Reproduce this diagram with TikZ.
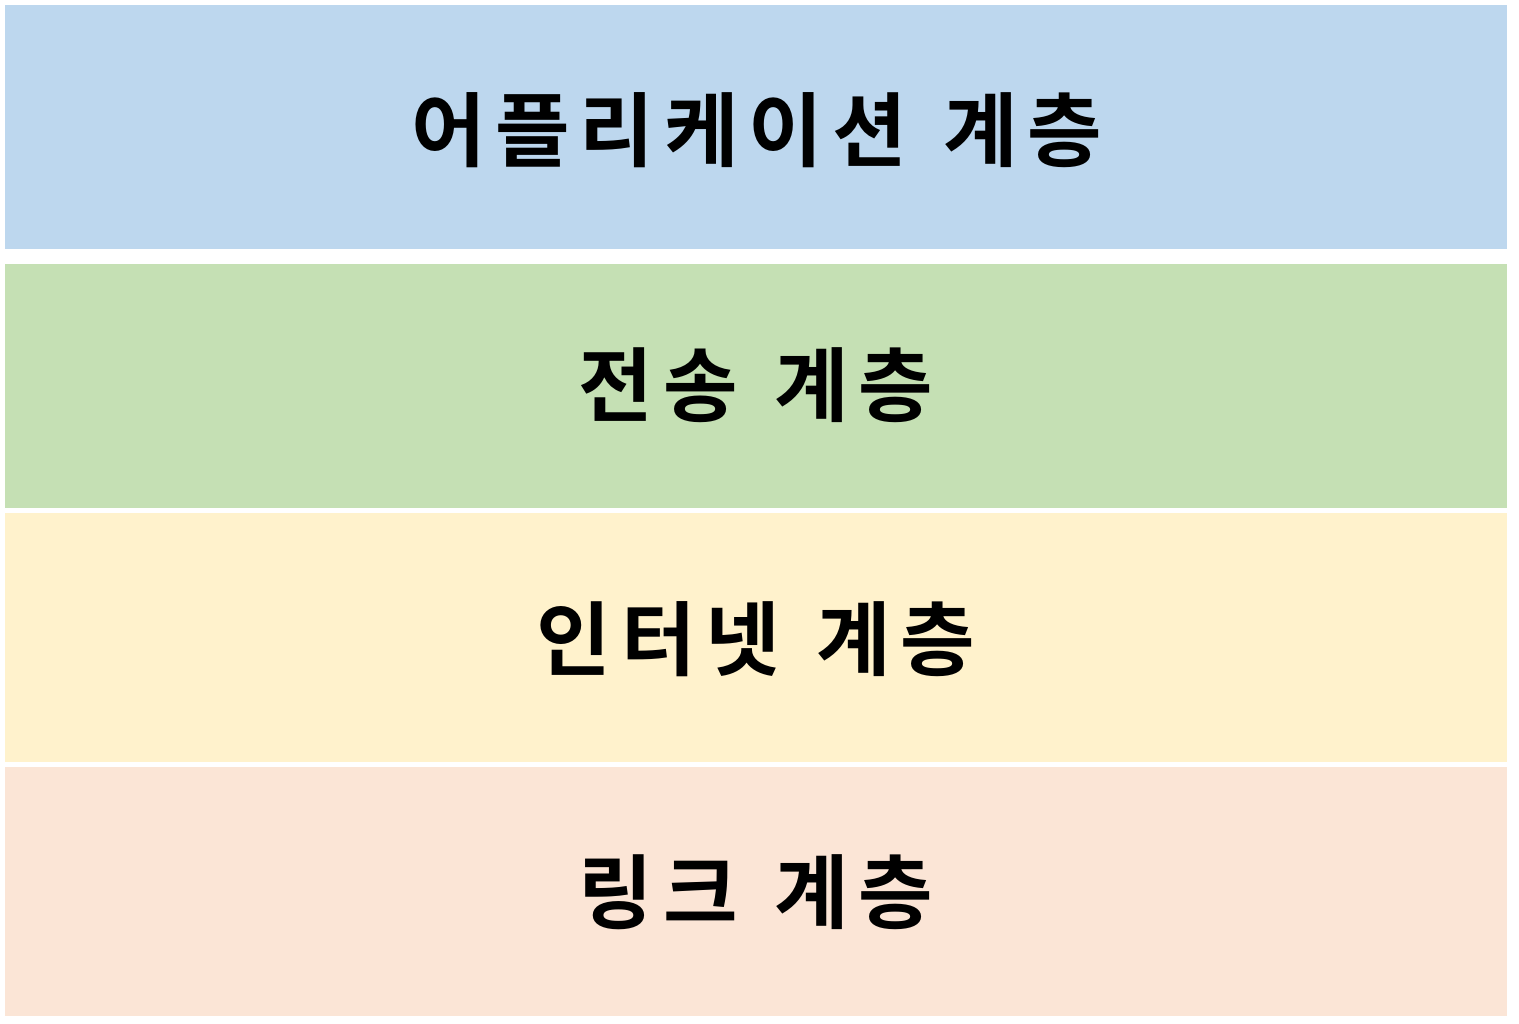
\documentclass[tikz,border=0pt]{standalone}
\usepackage{fontspec}
\newfontfamily\kr{Noto Sans CJK KR}[BoldFont={* Bold}, LetterSpace=12, WordSpace=1.3]
\definecolor{appblue}{HTML}{BDD7EE}
\definecolor{trgreen}{HTML}{C5E0B4}
\definecolor{inyellow}{HTML}{FFF2CC}
\definecolor{lkpeach}{HTML}{FBE5D6}
\tikzset{
  layerlabel/.style={font=\kr\bfseries\fontsize{81}{90}\selectfont, text=black, inner sep=0pt}
}
\begin{document}
\begin{tikzpicture}[x=1pt,y=-1pt]
\useasboundingbox[fill=white] (0,0) rectangle (1519,1024);
\fill[appblue] (5,5) rectangle (1507,249);
\fill[trgreen] (5,264) rectangle (1507,508);
\fill[inyellow] (5,513) rectangle (1507,762);
\fill[lkpeach] (5,767) rectangle (1507,1016);
\node[layerlabel] (app) at (757,130) {어플리케이션 계층};
\node[layerlabel] (tr) at (756,385) {전송 계층};
\node[layerlabel] (inet) at (756,639) {인터넷 계층};
\node[layerlabel] (link) at (756,892) {링크 계층};
\end{tikzpicture}
\end{document}
